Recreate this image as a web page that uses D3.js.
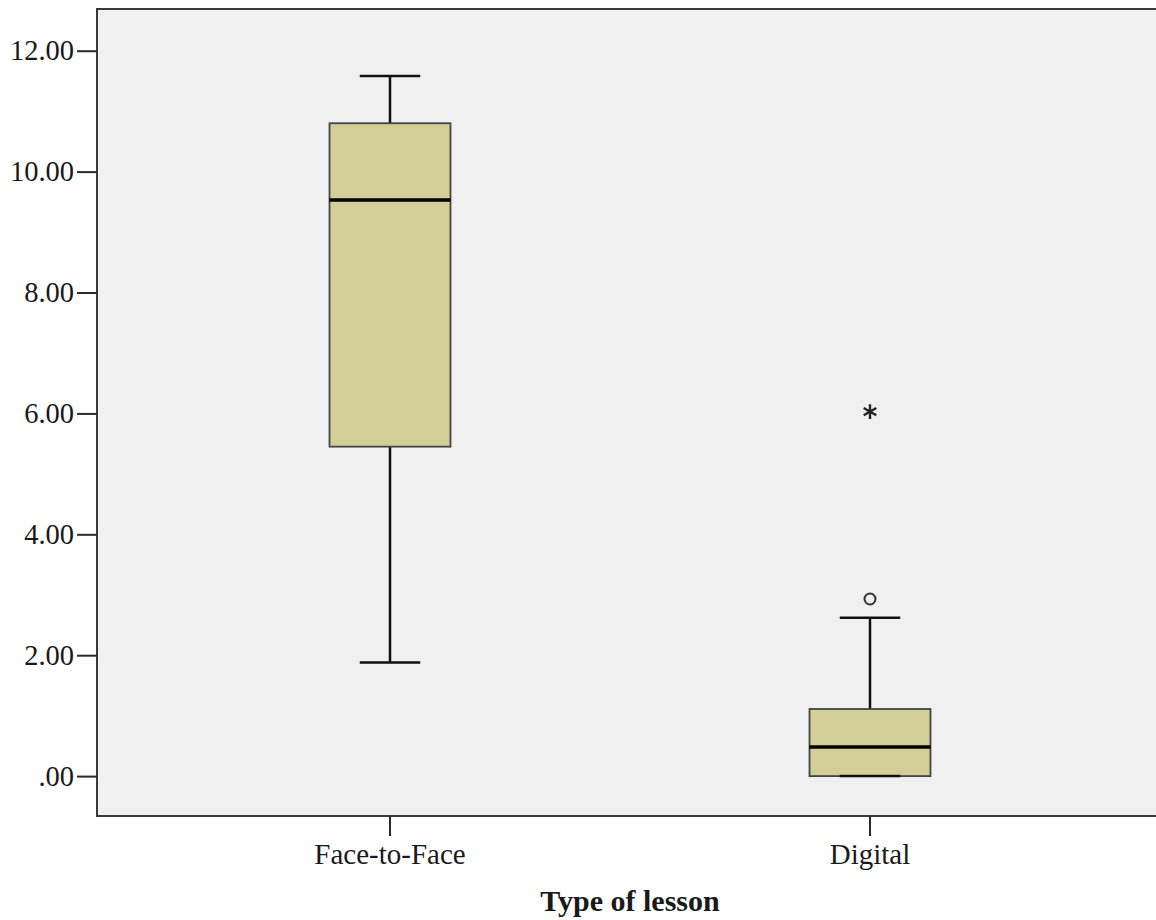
<!DOCTYPE html>
<html>
<head>
<meta charset="utf-8">
<script src="https://cdn.jsdelivr.net/npm/d3@7"></script>
<style>
  html, body { margin: 0; padding: 0; background: #fff; }
  svg { display: block; }
  text { font-family: "Liberation Serif", "DejaVu Serif", serif; fill: #1a1a1a; }
</style>
</head>
<body>
<div id="graphicContainer"></div>
<script>

// groups and five-number summaries
const categories = ["Face-to-Face", "Digital"]
const whiskerLow = [1.88, 0.00]
const q1 = [5.45, 0.00]
const median = [9.53, 0.48]
const q3 = [10.80, 1.11]
const whiskerHigh = [11.58, 2.62]

// outliers: circle = mild, star = extreme
const outlierGroup = ["Digital", "Digital"]
const outlierValue = [2.93, 6.03]
const outlierType = ["circle", "star"]

const yTicks = [0, 2, 4, 6, 8, 10, 12]
const xAxisLabel = "Type of lesson"

const width = 1156
const height = 920
const marginleft = 97
const margintop = 9
const plotBottom = 816

const data = categories.map((c, i) => ({
  group: c,
  lo: whiskerLow[i],
  q1: q1[i],
  med: median[i],
  q3: q3[i],
  hi: whiskerHigh[i]
}))

const outliers = outlierValue.map((v, i) => ({
  group: outlierGroup[i],
  value: v,
  type: outlierType[i]
}))

const svg = d3.select("#graphicContainer")
  .append("svg")
  .attr("width", width)
  .attr("height", height)

const y = d3.scaleLinear()
  .domain([-0.66, 12.69])
  .range([plotBottom, margintop])

const x = d3.scaleBand()
  .domain(categories)
  .range([150, 1110])

// plot background
svg.append("rect")
  .attr("x", marginleft)
  .attr("y", margintop)
  .attr("width", width - marginleft + 5)
  .attr("height", plotBottom - margintop)
  .attr("fill", "#f0f0f0")
  .attr("stroke", "#3a3a3a")
  .attr("stroke-width", 2)

// y axis
const yAxis = d3.axisLeft(y)
  .tickValues(yTicks)
  .tickSize(20)
  .tickPadding(3)
  .tickFormat(d => d === 0 ? ".00" : d3.format(".2f")(d))

const yG = svg.append("g")
  .attr("class", "y")
  .attr("transform", "translate(" + marginleft + ",0)")
  .call(yAxis)

yG.select(".domain").remove()
yG.selectAll(".tick line").attr("stroke", "#2a2a2a").attr("stroke-width", 2)
yG.selectAll(".tick text")
  .attr("font-size", 28.5)
  .attr("fill", "#1a1a1a")
  .style("font-family", "'Liberation Serif', serif")

// x axis
const xAxis = d3.axisBottom(x)
  .tickSize(20)
  .tickPadding(7)

const xG = svg.append("g")
  .attr("class", "x")
  .attr("transform", "translate(0," + plotBottom + ")")
  .call(xAxis)

xG.select(".domain").remove()
xG.selectAll(".tick line").attr("stroke", "#2a2a2a").attr("stroke-width", 2)
xG.selectAll(".tick text")
  .attr("font-size", 29)
  .attr("fill", "#1a1a1a")
  .style("font-family", "'Liberation Serif', serif")

svg.append("text")
  .attr("x", 630)
  .attr("y", 911)
  .attr("text-anchor", "middle")
  .attr("font-size", 30)
  .attr("font-weight", "bold")
  .text(xAxisLabel)

// boxes
const boxW = x.bandwidth() * 0.252
const capW = boxW / 2

const box = svg.append("g")
  .attr("class", "boxes")
  .selectAll("g")
  .data(data)
  .enter()
  .append("g")
  .attr("transform", d => "translate(" + (x(d.group) + x.bandwidth() / 2) + ",0)")

box.append("line")
  .attr("x1", 0).attr("x2", 0)
  .attr("y1", d => y(d.hi)).attr("y2", d => y(d.q3))
  .attr("stroke", "#111").attr("stroke-width", 2.5)

box.append("line")
  .attr("x1", 0).attr("x2", 0)
  .attr("y1", d => y(d.q1)).attr("y2", d => y(d.lo))
  .attr("stroke", "#111").attr("stroke-width", 2.5)

box.append("rect")
  .attr("x", -boxW / 2)
  .attr("width", boxW)
  .attr("y", d => y(d.q3))
  .attr("height", d => y(d.q1) - y(d.q3))
  .attr("fill", "#d3ce98")
  .attr("stroke", "#444")
  .attr("stroke-width", 1.8)

box.append("line")
  .attr("x1", -boxW / 2).attr("x2", boxW / 2)
  .attr("y1", d => y(d.med)).attr("y2", d => y(d.med))
  .attr("stroke", "#000").attr("stroke-width", 3.5)

box.append("line")
  .attr("x1", -capW / 2).attr("x2", capW / 2)
  .attr("y1", d => y(d.hi)).attr("y2", d => y(d.hi))
  .attr("stroke", "#111").attr("stroke-width", 2.5)

box.append("line")
  .attr("x1", -capW / 2).attr("x2", capW / 2)
  .attr("y1", d => y(d.lo)).attr("y2", d => y(d.lo))
  .attr("stroke", "#111").attr("stroke-width", 2.5)

// outliers
const out = svg.append("g").attr("class", "outliers")

out.selectAll("circle")
  .data(outliers.filter(d => d.type === "circle"))
  .enter()
  .append("circle")
  .attr("cx", d => x(d.group) + x.bandwidth() / 2)
  .attr("cy", d => y(d.value))
  .attr("r", 5.5)
  .attr("fill", "none")
  .attr("stroke", "#333")
  .attr("stroke-width", 2)

out.selectAll("path")
  .data(outliers.filter(d => d.type === "star"))
  .enter()
  .append("path")
  .attr("transform", d => "translate(" + (x(d.group) + x.bandwidth() / 2) + "," + y(d.value) + ")")
  .attr("d", d3.symbol().type(d3.symbolAsterisk).size(150))
  .attr("stroke", "#222")
  .attr("stroke-width", 2.4)
  .attr("fill", "none")

</script>
</body>
</html>
